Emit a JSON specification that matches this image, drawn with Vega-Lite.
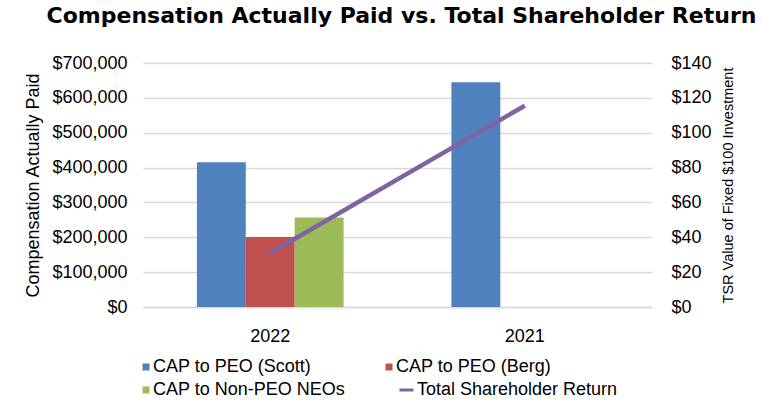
{
  "$schema": "https://vega.github.io/schema/vega-lite/v6.json",
  "width": 509,
  "height": 244,
  "autosize": {"type": "none"},
  "padding": {"left": 143, "top": 63, "right": 110, "bottom": 110},
  "background": "white",
  "title": {
    "text": "Compensation Actually Paid vs. Total Shareholder Return",
    "font": "DejaVu Sans",
    "fontWeight": "bold",
    "fontSize": 22,
    "color": "#000000",
    "anchor": "middle",
    "dx": 4,
    "offset": 26
  },
  "config": {
    "view": {"stroke": null},
    "font": "Liberation Sans"
  },
  "layer": [
    {
      "data": {
        "values": [
          {"year": "2022", "series": "CAP to PEO (Scott)", "value": 415000},
          {"year": "2022", "series": "CAP to PEO (Berg)", "value": 201000},
          {"year": "2022", "series": "CAP to Non-PEO NEOs", "value": 257000},
          {"year": "2021", "series": "CAP to PEO (Scott)", "value": 645000}
        ]
      },
      "mark": {"type": "bar"},
      "encoding": {
        "x": {
          "field": "year",
          "type": "nominal",
          "scale": {"domain": ["2022", "2021"], "paddingInner": 0.4236, "paddingOuter": 0.2118},
          "axis": {
            "title": null,
            "labelAngle": 0,
            "labelFontSize": 18,
            "labelColor": "#000000",
            "labelPadding": 20,
            "ticks": false,
            "domain": true,
            "domainColor": "#d9d9d9",
            "domainWidth": 1.5
          }
        },
        "xOffset": {
          "field": "series",
          "type": "nominal",
          "scale": {"domain": ["CAP to PEO (Scott)", "CAP to PEO (Berg)", "CAP to Non-PEO NEOs"], "paddingInner": 0, "paddingOuter": 0}
        },
        "y": {
          "field": "value",
          "type": "quantitative",
          "scale": {"domain": [0, 700000]},
          "axis": {
            "orient": "left",
            "title": "Compensation Actually Paid",
            "titleFontSize": 18,
            "titleFontWeight": "normal",
            "titleColor": "#000000",
            "titleAngle": -90,
            "titleX": -110,
            "titleY": 122,
            "titleAlign": "center",
            "titleBaseline": "middle",
            "values": [0, 100000, 200000, 300000, 400000, 500000, 600000, 700000],
            "format": "$,.0f",
            "labelFontSize": 18,
            "labelColor": "#000000",
            "labelPadding": 16,
            "ticks": false,
            "domain": false,
            "grid": true,
            "gridColor": "#d9d9d9",
            "gridWidth": 1.5
          }
        },
        "color": {
          "field": "series",
          "type": "nominal",
          "scale": {
            "domain": ["CAP to PEO (Scott)", "CAP to Non-PEO NEOs", "CAP to PEO (Berg)", "Total Shareholder Return"],
            "range": ["#4F81BD", "#9BBB59", "#C0504D", "#8064A2"]
          },
          "legend": {
            "orient": "none",
            "legendX": -6,
            "legendY": 295,
            "title": null,
            "columns": 2,
            "columnPadding": 34,
            "rowPadding": 5,
            "symbolType": "square",
            "symbolSize": 49,
            "labelOffset": -2,
            "labelFontSize": 18,
            "labelColor": "#000000",
            "labelLimit": 400,
            "encode": {
              "symbols": {
                "update": {
                  "shape": {"signal": "datum.value === 'Total Shareholder Return' ? 'M3,-0.43H7V0.43H3Z' : 'square'"},
                  "fill": {"scale": "color", "field": "value"},
                  "stroke": {"value": "transparent"},
                  "strokeWidth": {"value": 0},
                  "opacity": {"value": 1}
                }
              },
              "labels": {
                "update": {
                  "dx": {"signal": "datum.value === 'Total Shareholder Return' ? 21 : 0"}
                }
              }
            }
          }
        }
      }
    },
    {
      "data": {
        "values": [
          {"year": "2022", "series": "Total Shareholder Return", "tsr": 31},
          {"year": "2021", "series": "Total Shareholder Return", "tsr": 115.5}
        ]
      },
      "mark": {"type": "line", "strokeWidth": 4.5},
      "encoding": {
        "x": {"field": "year", "type": "nominal"},
        "y": {
          "field": "tsr",
          "type": "quantitative",
          "scale": {"domain": [0, 140]},
          "axis": {
            "orient": "right",
            "title": "TSR Value of Fixed $100 Investment",
            "titleFontSize": 14.5,
            "titleFontWeight": "normal",
            "titleColor": "#000000",
            "titleAngle": -90,
            "titleX": 76,
            "titleY": 122,
            "titleAlign": "center",
            "titleBaseline": "middle",
            "values": [0, 20, 40, 60, 80, 100, 120, 140],
            "format": "$,.0f",
            "labelFontSize": 18,
            "labelColor": "#000000",
            "labelPadding": 19,
            "ticks": false,
            "domain": false,
            "grid": false
          }
        },
        "color": {"field": "series", "type": "nominal"}
      }
    }
  ],
  "resolve": {"scale": {"y": "independent"}}
}
